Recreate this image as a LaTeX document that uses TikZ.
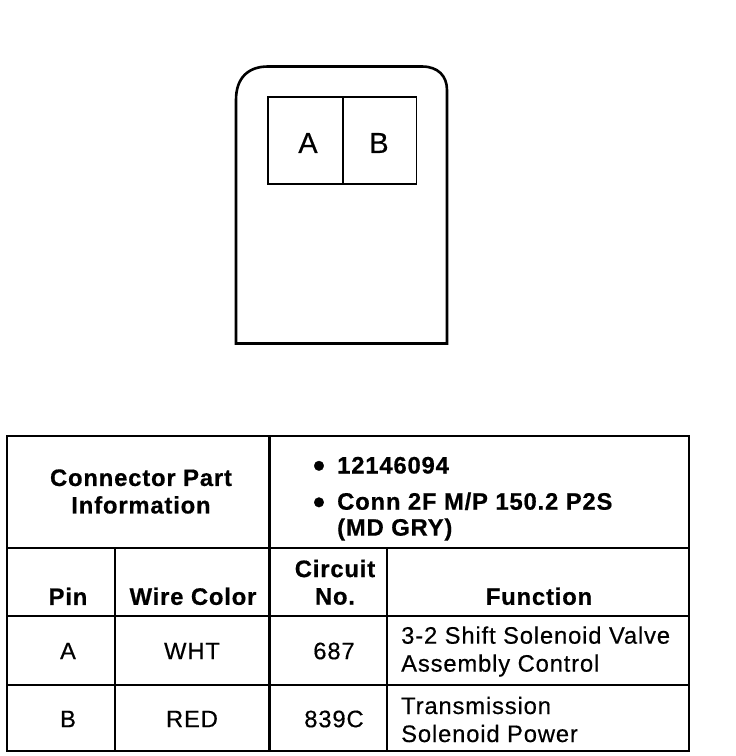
\documentclass[tikz,border=0pt]{standalone}
\usepackage{fontspec}
\setmainfont{Liberation Sans}[LetterSpace=3.5,FakeBold=0.4,BoldFeatures={FakeBold=0.6}]
\tikzset{
 ln/.style={draw=black,line width=2.2pt},
 thin box/.style={draw=black,line width=1.6pt},
 tx/.style={font=\fontsize{23.8pt}{28pt}\selectfont,text=black,inner sep=0pt},
 hd/.style={tx,font=\fontsize{23.8pt}{27.5pt}\selectfont\bfseries},
 bul/.style={font=\fontsize{34pt}{34pt}\selectfont\bfseries,text=black,inner sep=0pt},
}
\begin{document}
\begin{tikzpicture}[x=1pt,y=-1pt]
\useasboundingbox (0,0) rectangle (736,756);
\fill[white] (0,0) rectangle (736,756);
\draw[draw=black,line width=2.6pt] (236,343.5) -- (236,100) .. controls (236,78) and (248,66.5) .. (268,66.5) -- (422,66.5) .. controls (438,66.5) and (447,76) .. (447,90) -- (447,343.5) -- cycle;
\node[thin box,inner sep=0pt,minimum width=75pt,minimum height=87pt] (boxA) at (305.5,140.5) {};
\node[thin box,inner sep=0pt,minimum width=73pt,minimum height=87pt] (boxB) at (380,140.5) {};
\node[font=\fontsize{29pt}{32pt}\selectfont,inner sep=0pt] (lA) at (308,143) {A};
\node[font=\fontsize{29pt}{32pt}\selectfont,inner sep=0pt] (lB) at (379,143) {B};
\draw[ln,line width=2.4pt] (7,436) rectangle (689,751);
\draw[ln] (7,548) -- (689,548);
\draw[ln] (7,616) -- (689,616);
\draw[ln] (7,685) -- (689,685);
\draw[ln] (269.5,436) -- (269.5,751);
\draw[ln] (115,548) -- (115,751);
\draw[ln] (387,548) -- (387,751);
\node[hd,align=center] (t1) at (141,491.5) {Connector Part\\Information};
\node[bul] (b1) at (319,469) {•};
\node[hd,anchor=west] (t2) at (337,465.3) {12146094};
\node[bul] (b2) at (319,505.5) {•};
\node[hd,anchor=west] (t3) at (337,501.3) {Conn 2F M/P 150.2 P2S};
\node[hd,anchor=west] (t4) at (337,529.5) {(MD GRY)};
\node[hd] (h1) at (68,596.3) {Pin};
\node[hd] (h2) at (193,596.3) {Wire Color};
\node[hd,align=center] (h3) at (335,582.3) {Circuit\\No.};
\node[hd] (h4) at (539,596.3) {Function};
\node[tx] (a1) at (68,651) {A};
\node[tx] (a2) at (192,651) {WHT};
\node[tx] (a3) at (334,651) {687};
\node[tx,anchor=west,align=left] (a4) at (401,651.5) {3-2 Shift Solenoid Valve\\Assembly Control};
\node[tx] (b11) at (68,719) {B};
\node[tx] (b12) at (192,719) {RED};
\node[tx] (b13) at (334,719) {839C};
\node[tx,anchor=west,align=left] (b14) at (401,719.5) {Transmission\\Solenoid Power};
\end{tikzpicture}
\end{document}
